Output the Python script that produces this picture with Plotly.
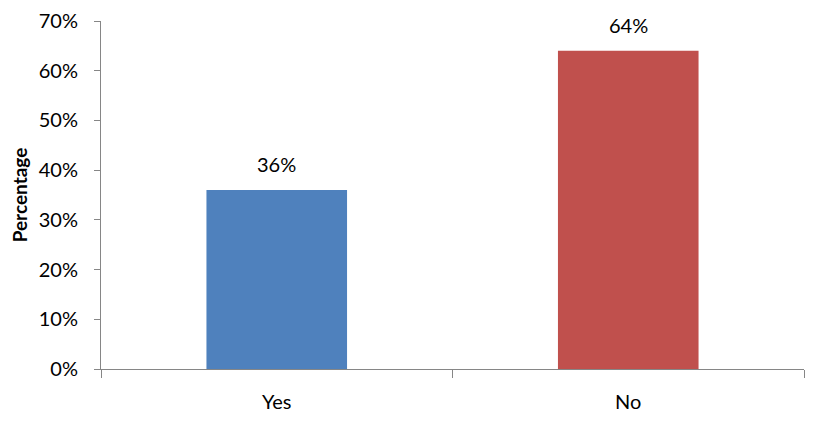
import plotly.graph_objects as go

categories = ["Yes", "No"]
values = [0.36, 0.64]
colors = ["#4F81BD", "#C0504D"]
labels = ["36%", "64%"]

fig = go.Figure(go.Bar(
    x=categories, y=values, marker=dict(color=colors, line=dict(width=0)),
    hoverinfo="skip",
))

for c, v, t in zip(categories, values, labels):
    fig.add_annotation(x=c, y=v, text=t, showarrow=False, yanchor="bottom",
                       yshift=12, font=dict(size=20, color="#000000"))

axis_col = "#868686"
fig.update_layout(
    width=821, height=421,
    margin=dict(l=93, r=25, t=13, b=60),
    paper_bgcolor="white", plot_bgcolor="white",
    font=dict(family="Lato, 'Open Sans', sans-serif", size=20, color="#000000"),
    bargap=0.6,
    showlegend=False,
    xaxis=dict(
        type="category", tickson="boundaries", ticks="outside", ticklen=8,
        tickcolor=axis_col, showline=True, linecolor=axis_col, linewidth=1,
        showgrid=False, tickfont=dict(size=20), automargin=False,
        ticklabelstandoff=15,
    ),
    yaxis=dict(
        range=[0, 0.7], dtick=0.1, tickformat=".0%", ticks="outside", ticklen=6,
        tickcolor=axis_col, showline=True, linecolor=axis_col, linewidth=1,
        showgrid=False, zeroline=False, tickfont=dict(size=20), automargin=False,
        ticklabelstandoff=12,
        title=dict(text="<b>Percentage</b>", font=dict(size=19), standoff=10),
    ),
)

fig.write_html("out.html")
